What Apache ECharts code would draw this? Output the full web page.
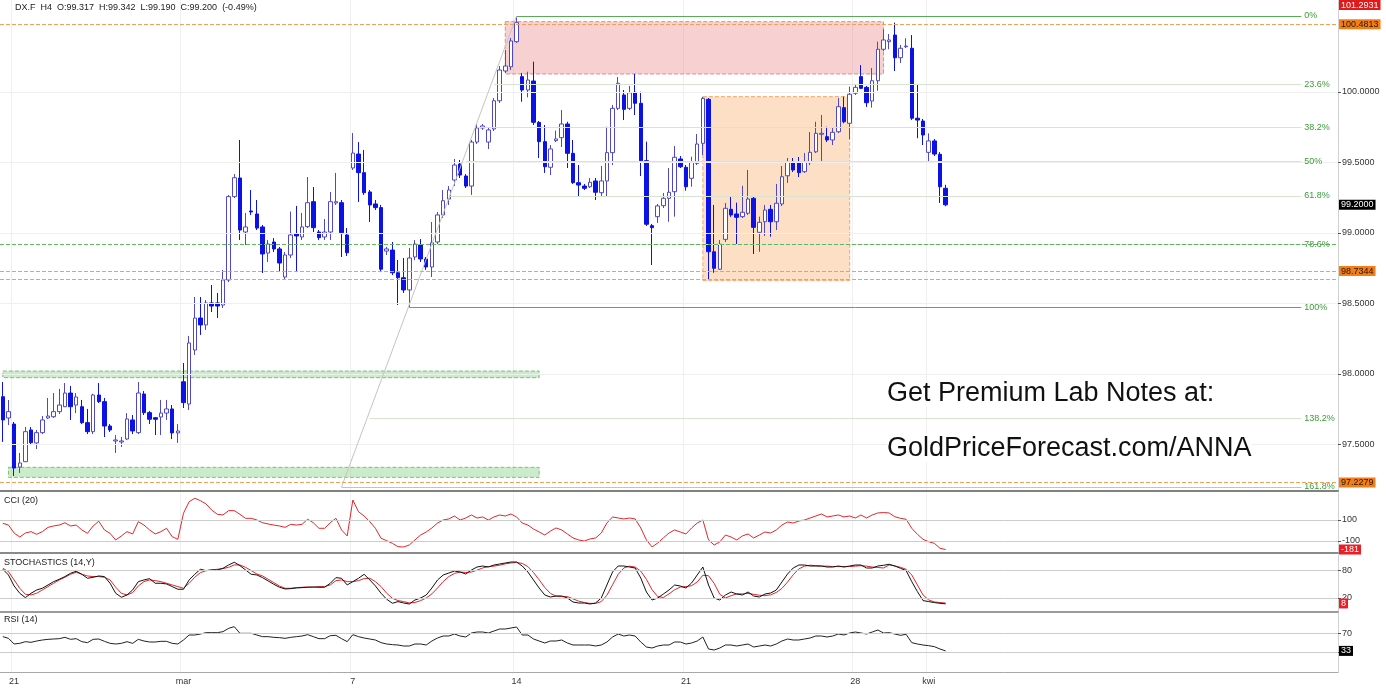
<!DOCTYPE html>
<html>
<head>
<meta charset="utf-8">
<script src="https://cdn.jsdelivr.net/npm/echarts@6/dist/echarts.min.js"></script>
<style>
html, body { margin: 0; padding: 0; background: #fff; }
#main { width: 1386px; height: 689px; }
</style>
</head>
<body>
<div id="main"></div>
<script>
var FONT = 'Liberation Sans, Arial, sans-serif';

// H4 candles
var opens = [
  97.839, 97.688, 97.645, 97.340, 97.378, 97.603, 97.511, 97.584, 97.688, 97.697,
  97.733, 97.768, 97.865, 97.780, 97.768, 97.655, 97.591, 97.851, 97.804, 97.631,
  97.525, 97.518, 97.539, 97.674, 97.584, 97.858, 97.726, 97.690, 97.695, 97.723,
  97.752, 97.582, 97.945, 97.787, 98.170, 98.397, 98.348, 98.504, 98.504, 98.489,
  98.667, 99.258, 99.390, 99.007, 99.156, 99.135, 99.043, 98.858, 98.936, 98.887,
  98.688, 98.844, 98.993, 98.972, 99.045, 99.222, 99.007, 98.972, 99.007, 99.213,
  99.215, 98.986, 99.461, 99.560, 99.428, 99.291, 99.206, 99.180, 98.872, 98.879,
  98.718, 98.683, 98.596, 98.830, 98.915, 98.816, 98.759, 98.936, 99.128, 99.241,
  99.376, 99.489, 99.404, 99.333, 99.645, 99.745, 99.645, 99.738, 99.938, 100.149,
  100.179, 100.357, 100.109, 100.014, 100.078, 99.785, 99.648, 99.466, 99.655, 99.676,
  99.773, 99.565, 99.357, 99.333, 99.328, 99.369, 99.286, 99.369, 99.570, 99.884,
  99.979, 99.884, 99.998, 99.920, 99.513, 99.052, 99.116, 99.194, 99.246, 99.293,
  99.525, 99.466, 99.388, 99.494, 99.636, 99.948, 98.867, 98.743, 98.955, 99.168,
  99.135, 99.116, 99.140, 99.246, 99.005, 99.080, 99.168, 99.080, 99.206, 99.406,
  99.506, 99.506, 99.435, 99.499, 99.576, 99.700, 99.683, 99.660, 99.718, 99.889,
  99.778, 99.991, 100.109, 100.033, 99.936, 100.080, 100.303, 100.357, 100.404, 100.243,
  100.321, 100.310, 99.814, 99.794, 99.572, 99.653, 99.558, 99.317
];
var closes = [
  97.674, 97.733, 97.333, 97.369, 97.591, 97.513, 97.584, 97.674, 97.702, 97.733,
  97.780, 97.865, 97.768, 97.837, 97.655, 97.591, 97.851, 97.804, 97.631, 97.603,
  97.532, 97.525, 97.681, 97.596, 97.865, 97.726, 97.679, 97.679, 97.723, 97.752,
  97.582, 97.596, 97.797, 98.220, 98.397, 98.348, 98.504, 98.482, 98.482, 98.667,
  99.258, 99.392, 99.021, 99.043, 99.149, 99.035, 98.851, 98.922, 98.887, 98.787,
  98.844, 98.986, 98.979, 99.043, 99.215, 99.038, 98.967, 99.007, 99.222, 99.222,
  99.002, 98.860, 99.567, 99.428, 99.286, 99.199, 99.180, 98.743, 98.887, 98.718,
  98.683, 98.596, 98.823, 98.922, 98.816, 98.759, 98.931, 99.128, 99.229, 99.305,
  99.482, 99.411, 99.333, 99.645, 99.745, 99.759, 99.731, 99.938, 100.156, 100.184,
  100.362, 100.492, 100.014, 100.085, 99.785, 99.648, 99.470, 99.596, 99.667, 99.773,
  99.565, 99.357, 99.340, 99.317, 99.360, 99.289, 99.369, 99.570, 99.884, 100.062,
  99.877, 99.995, 99.920, 99.513, 99.062, 99.038, 99.192, 99.246, 99.289, 99.537,
  99.470, 99.328, 99.501, 99.631, 99.955, 98.867, 98.750, 98.920, 99.175, 99.128,
  99.111, 99.147, 99.241, 99.040, 99.076, 99.163, 99.080, 99.211, 99.399, 99.506,
  99.447, 99.428, 99.506, 99.572, 99.707, 99.707, 99.660, 99.714, 99.896, 99.789,
  99.984, 100.033, 100.026, 99.924, 100.080, 100.303, 100.369, 100.369, 100.243, 100.310,
  100.326, 99.814, 99.801, 99.695, 99.653, 99.560, 99.328, 99.200
];
var lows = [
  97.518, 97.638, 97.277, 97.298, 97.376, 97.496, 97.468, 97.574, 97.681, 97.688,
  97.716, 97.766, 97.674, 97.723, 97.645, 97.574, 97.574, 97.794, 97.553, 97.589,
  97.440, 97.482, 97.532, 97.574, 97.574, 97.709, 97.645, 97.567, 97.567, 97.674,
  97.539, 97.511, 97.759, 97.745, 98.135, 98.277, 98.312, 98.440, 98.397, 98.468,
  98.652, 99.248, 98.950, 98.915, 99.128, 99.021, 98.716, 98.794, 98.865, 98.723,
  98.667, 98.823, 98.723, 98.950, 99.035, 99.007, 98.950, 98.950, 98.950, 99.199,
  98.830, 98.837, 99.447, 99.220, 99.270, 99.078, 99.163, 98.723, 98.844, 98.702,
  98.489, 98.575, 98.475, 98.808, 98.794, 98.738, 98.688, 98.915, 99.106, 99.199,
  99.333, 99.390, 99.319, 99.270, 99.631, 99.731, 99.596, 99.723, 99.922, 100.135,
  100.156, 100.348, 99.931, 99.962, 99.766, 99.532, 99.426, 99.411, 99.645, 99.610,
  99.461, 99.348, 99.262, 99.305, 99.319, 99.234, 99.262, 99.262, 99.482, 99.872,
  99.801, 99.872, 99.837, 99.404, 99.050, 98.773, 99.071, 99.177, 99.080, 99.116,
  99.461, 99.300, 99.328, 99.482, 99.553, 98.667, 98.718, 98.738, 98.936, 99.114,
  98.915, 99.106, 99.128, 98.851, 98.867, 98.979, 98.974, 99.021, 99.191, 99.355,
  99.433, 99.397, 99.426, 99.482, 99.567, 99.499, 99.645, 99.624, 99.709, 99.778,
  99.665, 99.979, 100.021, 99.894, 99.889, 100.009, 100.291, 100.303, 100.149, 100.206,
  100.312, 99.801, 99.672, 99.624, 99.506, 99.546, 99.213, 99.190
];
var highs = [
  97.943, 97.816, 97.660, 97.440, 97.624, 97.624, 97.603, 97.702, 97.830, 97.865,
  97.894, 97.936, 97.915, 97.865, 97.816, 97.752, 97.860, 97.936, 97.830, 97.645,
  97.567, 97.553, 97.723, 97.709, 97.943, 97.879, 97.738, 97.695, 97.816, 97.816,
  97.780, 97.645, 98.078, 98.270, 98.546, 98.546, 98.525, 98.631, 98.575, 98.738,
  99.270, 99.418, 99.660, 99.142, 99.305, 99.234, 99.057, 98.950, 98.964, 98.901,
  98.865, 99.152, 99.192, 99.142, 99.397, 99.326, 99.021, 99.099, 99.291, 99.426,
  99.234, 99.035, 99.709, 99.645, 99.589, 99.305, 99.234, 99.199, 98.901, 98.936,
  98.808, 98.823, 98.894, 98.950, 98.957, 98.830, 99.078, 99.149, 99.305, 99.333,
  99.525, 99.518, 99.418, 99.660, 99.773, 99.773, 99.752, 99.957, 100.184, 100.298,
  100.383, 100.539, 100.135, 100.144, 100.215, 99.794, 99.766, 99.624, 99.726, 99.872,
  99.789, 99.660, 99.482, 99.348, 99.390, 99.390, 99.475, 99.754, 99.908, 100.106,
  100.014, 100.043, 100.128, 100.002, 99.648, 99.064, 99.206, 99.284, 99.461, 99.617,
  99.546, 99.482, 99.541, 99.702, 99.965, 99.957, 99.199, 98.950, 99.213, 99.262,
  99.215, 99.335, 99.447, 99.262, 99.116, 99.199, 99.199, 99.348, 99.475, 99.532,
  99.532, 99.539, 99.567, 99.716, 99.789, 99.837, 99.754, 99.745, 99.957, 99.967,
  100.038, 100.050, 100.191, 100.043, 100.170, 100.357, 100.445, 100.411, 100.492, 100.333,
  100.381, 100.404, 100.057, 99.809, 99.707, 99.667, 99.574, 99.342
];

// indicators
var cci = [
  68.6, 52, -24, -62, -24, -11, -36, -11, 30, 43,
  52, 74, 43, 52, 5, -27, 43, 88, 5, -27,
  -90, -52, -11, -33, 84, 52, 5, -33, -11, 21,
  -59, -84, 164, 274, 307, 284, 252, 195, 154, 148,
  189, 189, 154, 116, 116, 100, 74, 62, 52, 43,
  30, 59, 52, 59, 107, 74, 21, 21, 74, 116,
  5, -52, 290, 179, 138, 84, 21, -74, -97, -122,
  -154, -157, -138, -90, -43, -14, 24, 71, 100, 110,
  138, 100, 119, 148, 119, 129, 100, 129, 148, 138,
  157, 129, 71, 52, 14, -14, -43, -5, 24, 5,
  -33, -71, -90, -100, -81, -71, -24, 71, 129, 119,
  110, 119, 110, 24, -90, -157, -119, -71, -24, 5,
  -14, -33, 24, 71, 100, -90, -138, -109, -43, -62,
  -90, -52, -33, -71, -43, -14, -24, 5, 52, 81,
  71, 90, 100, 119, 138, 157, 129, 138, 148, 129,
  138, 119, 148, 119, 148, 167, 171, 167, 131, 116,
  107, 21, -36, -84, -107, -122, -169, -181
];
var stochK = [
  83.1, 70.6, 46.4, 30.3, 20.7, 30.3, 37.6, 41.3, 48.6, 55.9,
  61.1, 67.0, 74.3, 78.7, 72.1, 63.3, 65.5, 68.4, 67.0, 52.3,
  30.3, 21.5, 26.6, 37.6, 55.9, 59.6, 62.5, 52.3, 52.3, 50.8,
  45.0, 39.1, 39.1, 59.6, 72.1, 83.1, 80.1, 81.6, 81.6, 85.3,
  92.6, 98.5, 91.1, 81.6, 72.1, 70.6, 64.7, 57.4, 50.1, 43.5,
  39.8, 40.5, 42.0, 42.7, 43.5, 44.2, 43.5, 43.5, 52.3, 64.7,
  63.3, 48.6, 55.9, 63.3, 72.1, 59.6, 46.4, 30.3, 17.1, 8.3,
  12.0, 8.9, 6.7, 15.5, 19.9, 26.5, 41.9, 59.5, 70.5, 74.9,
  79.3, 77.1, 72.7, 81.5, 88.1, 90.3, 88.1, 92.5, 94.7, 96.9,
  99.1, 99.1, 90.3, 77.1, 59.5, 41.9, 26.5, 22.1, 24.3, 24.3,
  19.9, 11.1, 8.9, 8.9, 6.7, 8.9, 19.9, 48.5, 77.1, 90.3,
  90.3, 88.1, 85.9, 63.9, 33.1, 15.5, 19.9, 28.7, 37.5, 48.5,
  46.3, 41.9, 52.9, 70.5, 88.1, 48.5, 19.9, 15.5, 26.5, 33.1,
  28.7, 26.5, 33.1, 24.3, 22.1, 28.7, 30.9, 37.5, 55.1, 72.7,
  85.9, 92.5, 92.5, 90.3, 90.3, 90.3, 88.1, 88.1, 90.3, 88.1,
  90.3, 92.5, 92.5, 85.9, 85.9, 90.3, 91.9, 94.1, 90.4, 85.3,
  80.1, 55.9, 33.9, 14.2, 12.0, 9.8, 8.3, 7.0
];
var stochD = [
  85.3, 77.9, 59.6, 41.3, 28.1, 26.6, 30.3, 37.6, 45.0, 52.3,
  59.6, 65.5, 72.1, 76.5, 72.1, 68.4, 67.0, 67.0, 65.5, 59.6,
  43.5, 30.3, 26.6, 31.7, 46.4, 55.9, 59.6, 58.1, 55.9, 52.3,
  48.6, 45.0, 41.3, 52.3, 65.5, 75.7, 80.1, 81.6, 83.1, 84.5,
  87.5, 92.6, 92.6, 87.5, 80.1, 72.8, 68.4, 61.1, 53.7, 46.4,
  41.3, 41.3, 42.7, 43.5, 44.2, 43.5, 45.0, 45.0, 48.6, 58.1,
  59.6, 55.9, 55.9, 58.1, 62.5, 63.3, 55.9, 45.0, 30.3, 19.3,
  14.2, 12, 9, 10, 14, 20, 29, 42, 56, 67,
  74, 77, 76, 77, 81, 86, 89, 90, 92, 95,
  97, 98, 96, 89, 76, 60, 43, 30, 24, 23,
  23, 18, 13, 10, 8, 8, 12, 26, 49, 72,
  86, 90, 88, 79, 61, 38, 23, 21, 29, 38,
  44, 45, 47, 55, 70, 69, 52, 28, 20, 25,
  29, 29, 30, 28, 26, 25, 27, 32, 41, 55,
  71, 84, 90, 92, 91, 90, 90, 89, 89, 89,
  89, 90, 91, 90, 88, 87, 86.0, 92.6, 90.4, 87.5,
  83.1, 70.6, 48.6, 26.6, 15.6, 11.2, 9.8, 8.8
];
var rsi = [
  62.9, 59.4, 47.5, 48.9, 52.4, 51.0, 53.8, 55.9, 57.3, 58.0,
  58.7, 61.5, 57.3, 58.7, 52.4, 50.3, 57.3, 58.0, 53.1, 48.9,
  47.5, 48.9, 52.4, 48.9, 57.3, 53.8, 51.7, 51.7, 53.1, 53.1,
  48.9, 47.5, 55.9, 66.4, 66.4, 68.5, 71.3, 71.3, 71.3, 73.4,
  80.4, 83.9, 69.9, 69.9, 69.9, 66.4, 62.9, 62.9, 61.5, 60.8,
  59.4, 61.5, 62.9, 64.3, 67.1, 62.9, 58.7, 58.7, 65.0, 65.7,
  58.7, 52.4, 67.1, 62.9, 60.1, 58.0, 55.9, 50.3, 47.5, 46.1,
  45.4, 43.3, 43.3, 47.5, 47.5, 45.4, 53.8, 60.1, 64.3, 64.3,
  68.5, 64.3, 62.2, 70.6, 72.7, 72.7, 70.6, 74.8, 79.0, 79.0,
  81.1, 83.2, 66.4, 66.4, 58.0, 53.8, 49.6, 53.8, 53.8, 55.9,
  49.6, 45.4, 45.4, 45.4, 45.4, 43.3, 45.4, 51.7, 62.2, 68.5,
  64.3, 66.4, 64.3, 51.7, 41.2, 39.1, 43.3, 45.4, 45.4, 51.7,
  51.7, 47.5, 49.6, 53.8, 62.2, 37.0, 34.9, 39.1, 45.4, 45.4,
  43.3, 45.4, 47.5, 41.2, 43.3, 45.4, 43.3, 47.5, 53.8, 58.0,
  55.9, 55.9, 58.0, 60.1, 64.3, 64.3, 62.2, 64.3, 68.5, 66.4,
  70.6, 72.7, 70.6, 68.5, 72.7, 76.9, 70.6, 71.3, 68.5, 65.7,
  67.8, 50.3, 47.5, 45.4, 44.0, 41.9, 37.0, 33.0
];

// axis ticks and day labels
var priceTicks = [100, 99.5, 99, 98.5, 98, 97.5];
var dayIndex = [2, 32, 62, 91, 121, 151, 164];
var dayText = ['21', 'mar', '7', '14', '21', '28', 'kwi'];

// fibonacci levels (drawn from the trend line to the right)
var fibNames = ['0%', '23.6%', '38.2%', '50%', '61.8%', '78.6%', '100%', '138.2%', '161.8%'];
var fibLevels = [100.539, 100.052, 99.751, 99.507, 99.263, 98.917, 98.475, 97.687, 97.199];
var fibStart = [91, 87, 84, 82, 79, 76, 72, 65, 60];

var N = 237;
var categories = [];
for (var i = 0; i < N; i++) categories.push(String(i));

var candles = opens.map(function (o, i) { return [o, closes[i], lows[i], highs[i]]; });

function isDay(i) { return dayIndex.indexOf(Number(i)) >= 0; }

function tagLine(value, color, type, text, bg, fg) {
  var item = {
    yAxis: value,
    lineStyle: { color: color || 'rgba(0,0,0,0)', type: type || 'solid', width: 1 },
    label: { show: false }
  };
  if (text) {
    item.label = {
      show: true, position: 'end', distance: 1, formatter: text,
      backgroundColor: bg, color: fg, fontSize: 9, fontFamily: FONT,
      padding: [1, 2, 0, 2]
    };
  }
  return item;
}

function xAx(idx, lineColor, lineWidth, labels) {
  return {
    type: 'category', gridIndex: idx, data: categories, boundaryGap: true,
    axisLine: { show: true, onZero: false, lineStyle: { color: lineColor, width: lineWidth } },
    axisTick: { show: false },
    axisLabel: {
      show: labels, interval: function (i) { return isDay(i); },
      formatter: function (v) { return dayText[dayIndex.indexOf(Number(v))]; },
      fontSize: 9, color: '#333', margin: 5, fontFamily: FONT
    },
    splitLine: { show: true, interval: function (i) { return isDay(i); }, lineStyle: { color: '#efefef' } }
  };
}

function yAx(idx, min, max, ticks, fmt) {
  return {
    type: 'value', gridIndex: idx, position: 'right', min: min, max: max,
    axisLine: { show: true, lineStyle: { color: '#d0d0d0' } },
    axisTick: { show: true, customValues: ticks, length: 3, lineStyle: { color: '#555' } },
    axisLabel: { customValues: ticks, formatter: fmt, fontSize: 9, color: '#333', margin: 4, fontFamily: FONT },
    splitLine: { show: false }
  };
}

var fibLines = fibLevels.map(function (lv, i) {
  var strong = (i === 0 || i === 6);
  var style = { color: strong ? '#5aaa5a' : (i === 8 ? '#a6d6a6' : '#d6e4d2'), type: 'solid', width: 1 };
  var lbl = { show: true, position: 'end', distance: 3, formatter: fibNames[i], color: '#3a9c3a', fontSize: 9, fontFamily: FONT };
  return [
    { coord: [fibStart[i], lv], lineStyle: style, label: lbl },
    { coord: [230, lv], lineStyle: style, label: lbl }
  ];
});

var trendStyle = { color: '#c4c4c4', width: 1, type: 'solid' };
var ORANGE = '#f2a057';

var mainMarks = priceTicks.map(function (v) { return tagLine(v, '#efefef', 'solid'); })
  .concat(fibLines)
  .concat([
    [{ coord: [60, 97.199], lineStyle: trendStyle, label: { show: false } },
     { coord: [91, 100.539], lineStyle: trendStyle, label: { show: false } }],
    tagLine(98.917, '#62b462', 'dashed'),
    tagLine(100.4813, ORANGE, 'dashed', '100.4813', '#f57d14', '#1a1a1a'),
    tagLine(98.7344, ORANGE, 'dashed', '98.7344', '#f57d14', '#1a1a1a'),
    tagLine(98.667, ORANGE, 'dashed'),
    tagLine(97.2279, ORANGE, 'dashed', '97.2279', '#f57d14', '#1a1a1a'),
    tagLine(99.2, null, 'solid', '99.2000', '#000', '#fff')
  ]);

var boxes = [
  [{ xAxis: 89, yAxis: 100.499, itemStyle: { color: 'rgba(236,140,140,0.40)', borderColor: '#e08c8c', borderWidth: 1, borderType: 'dashed' } },
   { xAxis: 156, yAxis: 100.128 }],
  [{ xAxis: 124, yAxis: 99.967, itemStyle: { color: 'rgba(252,196,150,0.55)', borderColor: '#f0a868', borderWidth: 1, borderType: 'dashed' } },
   { xAxis: 150, yAxis: 98.662 }],
  [{ xAxis: 0, yAxis: 98.021, itemStyle: { color: 'rgba(140,210,140,0.45)', borderColor: '#7cbf7c', borderWidth: 1, borderType: 'dashed' } },
   { xAxis: 95, yAxis: 97.974 }],
  [{ xAxis: 1, yAxis: 97.338, itemStyle: { color: 'rgba(140,210,140,0.45)', borderColor: '#7cbf7c', borderWidth: 1, borderType: 'dashed' } },
   { xAxis: 95, yAxis: 97.267 }]
];

function panelTitle(text, top) {
  return { text: text, left: 4, top: top, padding: 0,
    textStyle: { fontSize: 9, fontWeight: 'normal', color: '#222', fontFamily: FONT } };
}

var option = {
  animation: false,
  backgroundColor: '#fff',
  textStyle: { fontFamily: FONT },
  title: [
    { text: 'DX.F  H4  O:99.317  H:99.342  L:99.190  C:99.200  (-0.49%)', left: 15, top: 3, padding: 0,
      textStyle: { fontSize: 9, fontWeight: 'normal', color: '#222', fontFamily: FONT } },
    panelTitle('CCI (20)', 496),
    panelTitle('STOCHASTICS (14,Y)', 558),
    panelTitle('RSI (14)', 615)
  ],
  grid: [
    { left: 0, right: 48, top: 0, height: 491 },
    { left: 0, right: 48, top: 493, height: 60 },
    { left: 0, right: 48, top: 555, height: 57 },
    { left: 0, right: 48, top: 613, height: 59 }
  ],
  xAxis: [
    xAx(0, '#808080', 2, false),
    xAx(1, '#8a8a8a', 2, false),
    xAx(2, '#7a7a7a', 1.5, false),
    xAx(3, '#a8a8a8', 1, true)
  ],
  yAxis: [
    yAx(0, 97.1702, 100.6525, priceTicks, function (v) { return v.toFixed(4); }),
    yAx(1, -214.2, 357, [100, -100], function (v) { return String(v); }),
    yAx(2, -10.9, 114.5, [80, 20], function (v) { return String(v); }),
    yAx(3, -11.3, 112.6, [70, 30], function (v) { return String(v); })
  ],
  graphic: [
    { type: 'text', left: 1339, top: 0, z: 10,
      style: { text: '101.2931', fill: '#fff', backgroundColor: '#e01a1a', padding: [1, 2, 0, 2], font: '9px ' + FONT } },
    { type: 'text', left: 887, top: 380, z: 10,
      style: { text: 'Get Premium Lab Notes at:', fill: '#111', backgroundColor: '#fff', font: '27px ' + FONT } },
    { type: 'text', left: 887, top: 435, z: 10,
      style: { text: 'GoldPriceForecast.com/ANNA', fill: '#111', backgroundColor: '#fff', font: '27px ' + FONT } }
  ],
  series: [
    {
      type: 'line', xAxisIndex: 0, yAxisIndex: 0, data: [], z: 1,
      markArea: { silent: true, data: boxes },
      markLine: { silent: true, symbol: ['none', 'none'], animation: false, data: mainMarks }
    },
    {
      name: 'DX.F', type: 'candlestick', xAxisIndex: 0, yAxisIndex: 0, z: 3,
      barWidth: 4,
      data: candles,
      itemStyle: { color: '#ffffff', color0: '#0b12e6', borderColor: '#4f4ac4', borderColor0: '#0b12e6', borderWidth: 1 }
    },
    {
      name: 'CCI', type: 'line', xAxisIndex: 1, yAxisIndex: 1, data: cci, showSymbol: false,
      lineStyle: { color: '#e3262a', width: 1 },
      markLine: { silent: true, symbol: ['none', 'none'], data: [
        tagLine(100, '#cccccc', 'solid'),
        tagLine(-100, '#cccccc', 'solid'),
        tagLine(-181, null, 'solid', '-181', '#ee1c24', '#fff')
      ] }
    },
    {
      name: '%D', type: 'line', xAxisIndex: 2, yAxisIndex: 2, data: stochD, showSymbol: false,
      lineStyle: { color: '#e3262a', width: 1 },
      markLine: { silent: true, symbol: ['none', 'none'], data: [
        tagLine(80, '#cccccc', 'solid'),
        tagLine(20, '#cccccc', 'solid'),
        tagLine(8, null, 'solid', '8', '#ee1c24', '#fff')
      ] }
    },
    {
      name: '%K', type: 'line', xAxisIndex: 2, yAxisIndex: 2, data: stochK, showSymbol: false,
      lineStyle: { color: '#111111', width: 1 }
    },
    {
      name: 'RSI', type: 'line', xAxisIndex: 3, yAxisIndex: 3, data: rsi, showSymbol: false,
      lineStyle: { color: '#222222', width: 1 },
      markLine: { silent: true, symbol: ['none', 'none'], data: [
        tagLine(70, '#cccccc', 'solid'),
        tagLine(30, '#cccccc', 'solid'),
        tagLine(33, null, 'solid', '33', '#000', '#fff')
      ] }
    }
  ]
};

var myChart = echarts.init(document.getElementById('main'));
myChart.setOption(option);
</script>
</body>
</html>
